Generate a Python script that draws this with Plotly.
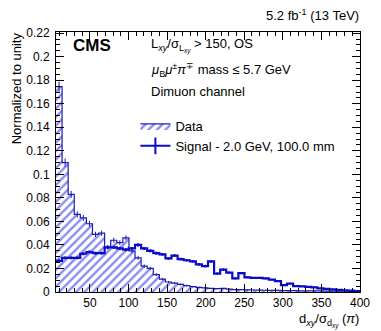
import numpy as np
import plotly.graph_objects as go

# ---- data ----
x_min, x_max, n_bins = 6.0, 400.0, 50

data_vals = [0.1745, 0.110, 0.083, 0.066, 0.063, 0.058, 0.049, 0.050, 0.038, 0.044,
             0.042, 0.046, 0.035, 0.029, 0.022, 0.020, 0.0148, 0.011, 0.0085, 0.0075,
             0.0065, 0.0055, 0.0045, 0.0040, 0.0035, 0.0030, 0.0028, 0.0030, 0.0025, 0.0020,
             0.0020, 0.0018, 0.0017, 0.0016, 0.0015, 0.0014, 0.0013, 0.0012, 0.0012, 0.0011,
             0.0010, 0.0010, 0.0009, 0.0009, 0.0008, 0.0008, 0.0007, 0.0007, 0.0006, 0.0006]
data_err = [0.0045, 0.0035, 0.0030, 0.0026, 0.0025, 0.0024, 0.0022, 0.0022, 0.0019, 0.0021,
            0.0020, 0.0021, 0.0018, 0.0017, 0.0015, 0.0014, 0.0012, 0.0011, 0.0009, 0.0009,
            0.0008, 0.0008, 0.0007, 0.0006, 0.0006, 0.0005, 0.0005, 0.0005, 0.0005, 0.0004,
            0.0004, 0.0004, 0.0004, 0.0004, 0.0004, 0.0004, 0.0003, 0.0003, 0.0003, 0.0003,
            0.0003, 0.0003, 0.0003, 0.0003, 0.0003, 0.0003, 0.0003, 0.0003, 0.0002, 0.0002]

sig_vals = [0.0265, 0.029, 0.029, 0.029, 0.0325, 0.034, 0.033, 0.033, 0.038, 0.038,
            0.037, 0.036, 0.037, 0.040, 0.037, 0.035, 0.033, 0.032, 0.0285, 0.031,
            0.028, 0.027, 0.026, 0.0235, 0.022, 0.026, 0.0157, 0.019, 0.0165, 0.0115,
            0.016, 0.0125, 0.012, 0.012, 0.0115, 0.0105, 0.0092, 0.0058, 0.0072, 0.0050,
            0.0047, 0.0043, 0.0040, 0.0030, 0.0027, 0.0022, 0.0018, 0.0015, 0.0012, 0.0008]
sig_err = [0.0012, 0.0012, 0.0012, 0.0012, 0.0013, 0.0013, 0.0013, 0.0013, 0.0014, 0.0014,
           0.0013, 0.0013, 0.0013, 0.0014, 0.0013, 0.0013, 0.0013, 0.0012, 0.0012, 0.0012,
           0.0012, 0.0011, 0.0011, 0.0011, 0.0011, 0.0011, 0.0009, 0.0010, 0.0009, 0.0008,
           0.0009, 0.0008, 0.0008, 0.0008, 0.0008, 0.0007, 0.0007, 0.0006, 0.0006, 0.0005,
           0.0005, 0.0005, 0.0004, 0.0004, 0.0004, 0.0003, 0.0003, 0.0003, 0.0003, 0.0002]

x_ticks = [50, 100, 150, 200, 250, 300, 350, 400]
y_ticks = [0, 0.02, 0.04, 0.06, 0.08, 0.1, 0.12, 0.14, 0.16, 0.18, 0.2, 0.22]

edges = np.linspace(x_min, x_max, n_bins + 1)
centers = 0.5 * (edges[:-1] + edges[1:])

DATA_C = "#1818e0"
DATA_LINE = "#1c1cb4"
SIG_C = "#0a0ac8"
FONT = "Liberation Sans, Arial, Helvetica, sans-serif"

fig = go.Figure()

# data: hatched step histogram
fig.add_trace(go.Scatter(
    x=list(edges), y=data_vals + [data_vals[-1]],
    mode="lines", line=dict(shape="hv", color=DATA_LINE, width=1.2),
    fill="tozeroy", fillcolor=DATA_C,
    fillpattern=dict(shape="/", fgcolor=DATA_C, bgcolor="rgba(0,0,0,0)",
                     size=6, solidity=0.4),
    name="Data", showlegend=True))
fig.add_trace(go.Scatter(
    x=list(centers), y=data_vals, mode="markers",
    marker=dict(size=1, opacity=0, color=DATA_LINE),
    error_y=dict(type="data", array=data_err, color=DATA_LINE, thickness=1, width=0),
    showlegend=False, hoverinfo="skip"))

# signal
fig.add_trace(go.Scatter(
    x=list(edges), y=sig_vals + [sig_vals[-1]],
    mode="lines", line=dict(shape="hv", color=SIG_C, width=2.2),
    showlegend=False))
fig.add_trace(go.Scatter(
    x=list(centers), y=sig_vals, mode="markers",
    marker=dict(size=1, opacity=0, color=SIG_C),
    error_y=dict(type="data", array=sig_err, color=SIG_C, thickness=2, width=0),
    showlegend=False, hoverinfo="skip"))
# legend entry for signal
fig.add_trace(go.Scatter(
    x=[None], y=[None], mode="lines+markers",
    line=dict(color=SIG_C, width=2),
    marker=dict(symbol="line-ns", size=12, line=dict(color=SIG_C, width=2)),
    name="Signal - 2.0 GeV, 100.0 mm"))

W, H = 381, 331
ml, mr, mt, mb = 56, 11, 32, 39
pw, ph = W - ml - mr, H - mt - mb


def px(xp):
    return (xp - ml) / pw


def py(yp):
    return (H - mb - yp) / ph


axis_common = dict(showline=True, linecolor="black", linewidth=1, mirror="allticks",
                   ticks="inside", ticklen=8, tickcolor="black", tickwidth=1,
                   showgrid=False, zeroline=False,
                   tickfont=dict(family=FONT, size=12, color="black"))

fig.update_xaxes(range=[x_min, x_max], tickvals=x_ticks,
                 minor=dict(dtick=10, tick0=0, ticklen=4, ticks="inside", tickcolor="black"),
                 **axis_common)
fig.update_yaxes(range=[0, 0.221], tickvals=y_ticks,
                 minor=dict(dtick=0.005, tick0=0, ticklen=4, ticks="inside", tickcolor="black"),
                 ticklabelstandoff=3,
                 **axis_common)

ann = []
def add_text(txt, x, y, xa="left", ya="middle", size=13, angle=0):
    ann.append(dict(text=txt, x=px(x), y=py(y), xref="paper", yref="paper",
                    xanchor=xa, yanchor=ya, showarrow=False, textangle=angle,
                    font=dict(family=FONT, size=size, color="black")))

add_text("<b>CMS</b>", 72, 45, size=17)
add_text("L<sub><i>xy</i></sub>/σ<sub>L<sub><i>xy</i></sub></sub> > 150, OS", 152, 45, size=13)
add_text("<i>μ</i><sub>B</sub><i>μ</i><sup>±</sup><i>π</i><sup>∓</sup> mass ≤ 5.7 GeV", 152, 70, size=13)
add_text("Dimuon channel", 152, 92, size=13)
add_text("5.2 fb<sup>-1</sup> (13 TeV)", 371, 15, xa="right", size=13)
add_text("d<sub><i>xy</i></sub>/σ<sub>d<sub><i>xy</i></sub></sub> (<i>π</i>)", 371, 320, xa="right", size=13)
add_text("Normalized to unity", 15, 30, xa="center", ya="top", size=13, angle=-90)

fig.update_layout(
    width=W, height=H,
    margin=dict(l=ml, r=mr, t=mt, b=mb, pad=0),
    paper_bgcolor="white", plot_bgcolor="white",
    font=dict(family=FONT, size=13, color="black"),
    annotations=ann,
    legend=dict(x=px(138), y=py(111), xanchor="left", yanchor="top",
                bgcolor="rgba(0,0,0,0)", borderwidth=0, itemwidth=30,
                tracegroupgap=0,
                font=dict(family=FONT, size=13, color="black")),
)

fig.write_html("out.html")
